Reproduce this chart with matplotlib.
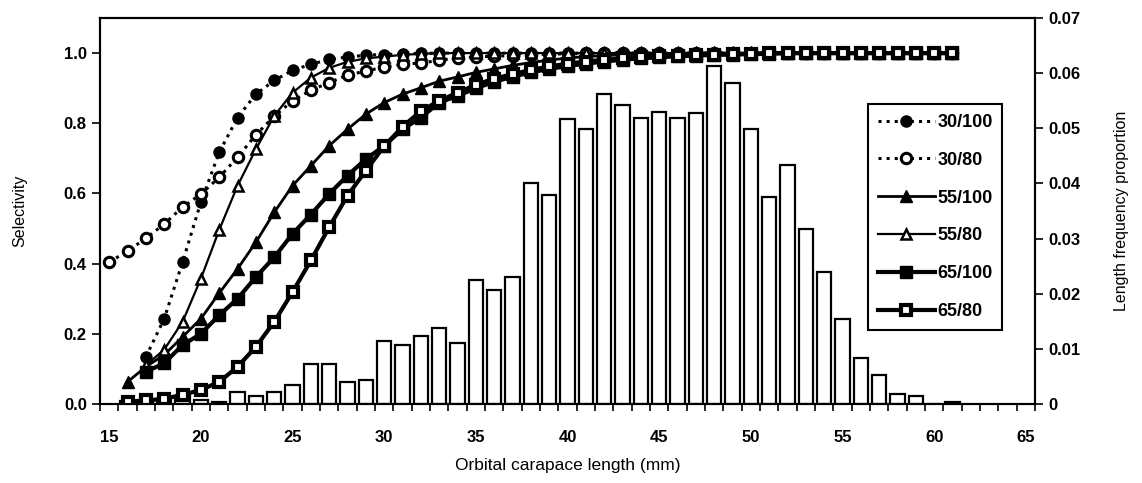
import matplotlib
matplotlib.use('Agg')
import matplotlib.pyplot as plt
from matplotlib.ticker import FixedLocator

plt.rcParams['font.family'] = ['Liberation Sans', 'DejaVu Sans']

# length frequency (right axis)
len_mm = list(range(16, 62))
len_freq = [0.0005, 0.0005, 0.0008, 0.0015, 0.0008, 0.0003, 0.0022, 0.0014, 0.0022, 0.0034,
            0.0072, 0.0072, 0.0040, 0.0044, 0.0115, 0.0107, 0.0124, 0.0138, 0.0111, 0.0224,
            0.0207, 0.0230, 0.0401, 0.0379, 0.0517, 0.0498, 0.0562, 0.0543, 0.0519, 0.0530,
            0.0519, 0.0528, 0.0613, 0.0583, 0.0499, 0.0375, 0.0434, 0.0318, 0.0239, 0.0154,
            0.0083, 0.0052, 0.0019, 0.0014, 0.0, 0.0003]

# selectivity curves (left axis)
x_30_100 = list(range(17, 62))
s_30_100 = [0.134, 0.243, 0.404, 0.575, 0.717, 0.816, 0.883, 0.922, 0.951, 0.968,
            0.982, 0.989, 0.994, 0.996, 0.998, 0.999, 1.0, 1.0, 1.0, 1.0,
            1.0, 1.0, 1.0, 1.0, 1.0, 1.0, 1.0, 1.0, 1.0, 1.0,
            1.0, 1.0, 1.0, 1.0, 1.0, 1.0, 1.0, 1.0, 1.0, 1.0,
            1.0, 1.0, 1.0, 1.0, 1.0]

x_30_80 = list(range(15, 62))
s_30_80 = [0.404, 0.436, 0.472, 0.513, 0.561, 0.598, 0.646, 0.703, 0.767, 0.820,
           0.864, 0.894, 0.916, 0.937, 0.949, 0.960, 0.968, 0.972, 0.979, 0.987,
           0.989, 0.991, 0.993, 0.995, 0.997, 0.998, 0.999, 1.0, 1.0, 1.0,
           1.0, 1.0, 1.0, 1.0, 1.0, 1.0, 1.0, 1.0, 1.0, 1.0,
           1.0, 1.0, 1.0, 1.0, 1.0, 1.0, 1.0]

x_55_100 = list(range(16, 62))
s_55_100 = [0.063, 0.106, 0.140, 0.191, 0.243, 0.316, 0.385, 0.461, 0.546, 0.622,
            0.679, 0.736, 0.783, 0.826, 0.859, 0.883, 0.901, 0.920, 0.932, 0.945,
            0.955, 0.965, 0.973, 0.980, 0.986, 0.990, 0.993, 0.995, 0.997, 0.998,
            1.0, 1.0, 1.0, 1.0, 1.0, 1.0, 1.0, 1.0, 1.0, 1.0,
            1.0, 1.0, 1.0, 1.0, 1.0, 1.0]

x_55_80 = list(range(17, 62))
s_55_80 = [0.110, 0.155, 0.234, 0.357, 0.496, 0.622, 0.726, 0.821, 0.887, 0.930,
           0.958, 0.975, 0.985, 0.990, 0.995, 0.998, 1.0, 1.0, 1.0, 1.0,
           1.0, 1.0, 1.0, 1.0, 1.0, 1.0, 1.0, 1.0, 1.0, 1.0,
           1.0, 1.0, 1.0, 1.0, 1.0, 1.0, 1.0, 1.0, 1.0, 1.0,
           1.0, 1.0, 1.0, 1.0, 1.0]

x_65_100 = list(range(17, 62))
s_65_100 = [0.092, 0.116, 0.168, 0.200, 0.253, 0.300, 0.362, 0.418, 0.485, 0.540,
            0.599, 0.651, 0.698, 0.736, 0.783, 0.816, 0.859, 0.878, 0.900, 0.918,
            0.933, 0.945, 0.955, 0.963, 0.970, 0.976, 0.981, 0.985, 0.988, 0.991,
            0.993, 0.995, 0.996, 0.997, 0.998, 1.0, 1.0, 1.0, 1.0, 1.0,
            1.0, 1.0, 1.0, 1.0, 1.0]

x_65_80 = list(range(16, 62))
s_65_80 = [0.007, 0.010, 0.015, 0.026, 0.040, 0.063, 0.106, 0.163, 0.234, 0.319,
           0.409, 0.504, 0.594, 0.665, 0.735, 0.790, 0.835, 0.864, 0.887, 0.910,
           0.927, 0.940, 0.952, 0.962, 0.970, 0.976, 0.981, 0.985, 0.988, 0.991,
           0.993, 0.995, 0.996, 0.997, 0.998, 1.0, 1.0, 1.0, 1.0, 1.0,
           1.0, 1.0, 1.0, 1.0, 1.0, 1.0]

fig = plt.figure(figsize=(11.42, 4.83), dpi=100)
ax = fig.add_axes([0.0876, 0.1636, 0.8187, 0.7991])
ax2 = ax.twinx()

ax2.bar(len_mm, len_freq, width=0.78, color='white', edgecolor='black', linewidth=1.6)
ax2.set_ylim(0, 0.07)
ax2.set_yticks([0, 0.01, 0.02, 0.03, 0.04, 0.05, 0.06, 0.07])
ax2.set_yticklabels(['0', '0.01', '0.02', '0.03', '0.04', '0.05', '0.06', '0.07'])
ax2.set_ylabel('Length frequency proportion', fontsize=11.5, labelpad=24)

# curves on top of bars
ax.set_zorder(ax2.get_zorder() + 1)
ax.patch.set_visible(False)

ax.plot(x_30_100, s_30_100, ':', color='black', lw=2.2, marker='o', ms=8,
        mfc='black', mec='black', label='30/100')
ax.plot(x_30_80, s_30_80, ':', color='black', lw=2.2, marker='o', ms=7.5,
        mfc='white', mec='black', mew=2.2, label='30/80')
ax.plot(x_55_100, s_55_100, '-', color='black', lw=2, marker='^', ms=8,
        mfc='black', mec='black', label='55/100')
ax.plot(x_55_80, s_55_80, '-', color='black', lw=1.6, marker='^', ms=7,
        mfc='white', mec='black', mew=1.8, label='55/80')
ax.plot(x_65_100, s_65_100, '-', color='black', lw=3, marker='s', ms=8,
        mfc='black', mec='black', label='65/100')
ax.plot(x_65_80, s_65_80, '-', color='black', lw=3, marker='s', ms=7,
        mfc='white', mec='black', mew=3, label='65/80')

ax.set_xlim(14.5, 65.5)
ax.set_ylim(0, 1.1)
ax.set_yticks([0.0, 0.2, 0.4, 0.6, 0.8, 1.0])
ax.set_yticklabels(['0.0', '0.2', '0.4', '0.6', '0.8', '1.0'])
ax.set_xticks(list(range(15, 66, 5)))
ax.xaxis.set_minor_locator(FixedLocator([i + 0.5 for i in range(14, 66)]))
ax.tick_params(axis='x', which='major', length=0, pad=19)
ax.tick_params(axis='x', which='minor', length=5, width=1.2, direction='out')
ax.tick_params(axis='y', length=6, width=1.2, direction='out')
ax2.tick_params(axis='y', length=6, width=1.2, direction='out')

for lab in ax.get_xticklabels() + ax.get_yticklabels() + ax2.get_yticklabels():
    lab.set_fontsize(12)
    lab.set_fontweight('bold')

ax.set_xlabel('Orbital carapace length (mm)', fontsize=12.5, labelpad=9)
ax.set_ylabel('Selectivity', fontsize=11.5, labelpad=26)

for sp in ax.spines.values():
    sp.set_linewidth(1.5)
for sp in ax2.spines.values():
    sp.set_linewidth(1.5)

leg = ax.legend(loc='upper left', bbox_to_anchor=(0.821, 0.777), frameon=True,
                fancybox=False, edgecolor='black', framealpha=1, borderpad=0.55,
                labelspacing=1.15, handlelength=3.2, handletextpad=0.1,
                borderaxespad=0, prop={'size': 13, 'weight': 'bold'})
leg.get_frame().set_linewidth(1.5)

fig.savefig('out.png', dpi=100)
